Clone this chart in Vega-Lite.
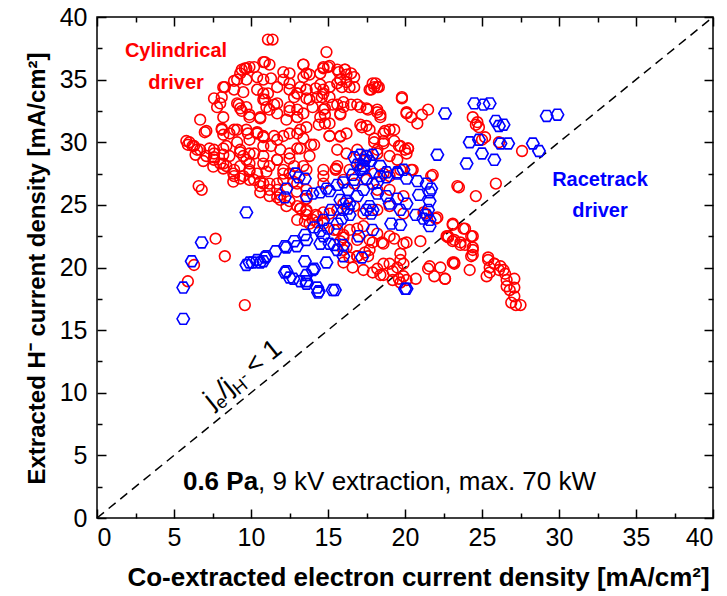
{
  "$schema": "https://vega.github.io/schema/vega-lite/v6.json",
  "width": 616,
  "height": 501,
  "autosize": {"type": "none"},
  "padding": {"left": 97, "top": 17, "right": 14, "bottom": 78},
  "background": "white",
  "config": {
    "view": {"stroke": "black", "strokeWidth": 1.5},
    "axis": {
      "grid": false, "domain": false, "tickColor": "black", "tickWidth": 1.5,
      "labelColor": "black", "labelFont": "Liberation Sans, Arial, sans-serif", "labelFontSize": 25,
      "titleColor": "black", "titleFont": "Liberation Sans, Arial, sans-serif", "titleFontSize": 26, "titleFontWeight": "bold"
    },
    "text": {"font": "Liberation Sans, Arial, sans-serif"}
  },
  "datasets": {
    "cyl": [
      {"x":11.1,"y":38.2},{"x":11.4,"y":38.2},{"x":14.9,"y":37.2},{"x":9.4,"y":35.8},{"x":9.7,"y":35.9},{"x":10.2,"y":36.0},{"x":10.8,"y":36.4},{"x":11.2,"y":36.2},{"x":9.1,"y":35.0},{"x":9.7,"y":35.0},{"x":10.4,"y":35.2},{"x":10.8,"y":35.0},{"x":11.3,"y":35.1},{"x":12.1,"y":35.6},{"x":12.5,"y":35.5},{"x":13.4,"y":36.2},{"x":13.8,"y":35.4},{"x":14.5,"y":35.5},{"x":14.7,"y":35.9},{"x":15.0,"y":36.0},{"x":15.6,"y":35.8},{"x":16.1,"y":35.8},{"x":16.2,"y":35.4},{"x":16.7,"y":35.2},{"x":15.8,"y":35.0},{"x":15.6,"y":34.7},{"x":16.7,"y":34.4},{"x":18.1,"y":34.7},{"x":18.2,"y":34.4},{"x":17.7,"y":34.2},{"x":19.8,"y":33.6},{"x":8.2,"y":34.4},{"x":8.9,"y":34.2},{"x":9.5,"y":34.0},{"x":10.4,"y":34.2},{"x":10.8,"y":33.9},{"x":11.7,"y":34.4},{"x":12.5,"y":34.2},{"x":13.0,"y":33.9},{"x":13.6,"y":34.2},{"x":14.7,"y":34.2},{"x":15.1,"y":34.4},{"x":7.6,"y":33.5},{"x":7.8,"y":32.8},{"x":9.1,"y":33.1},{"x":9.3,"y":32.7},{"x":9.7,"y":32.8},{"x":10.8,"y":33.4},{"x":11.0,"y":32.8},{"x":11.7,"y":33.1},{"x":12.5,"y":32.8},{"x":13.0,"y":32.6},{"x":13.8,"y":33.4},{"x":14.3,"y":33.6},{"x":14.7,"y":32.6},{"x":15.6,"y":33.0},{"x":16.0,"y":32.8},{"x":16.9,"y":33.0},{"x":17.5,"y":32.7},{"x":18.2,"y":32.6},{"x":18.4,"y":32.2},{"x":20.1,"y":32.3},{"x":6.7,"y":31.8},{"x":8.2,"y":32.0},{"x":9.9,"y":32.0},{"x":10.6,"y":32.0},{"x":11.7,"y":32.3},{"x":13.0,"y":32.0},{"x":13.4,"y":32.3},{"x":14.5,"y":32.0},{"x":15.1,"y":31.5},{"x":15.8,"y":32.3},{"x":17.1,"y":31.4},{"x":17.5,"y":31.3},{"x":19.0,"y":31.0},{"x":18.6,"y":30.7},{"x":7.1,"y":30.9},{"x":8.1,"y":31.1},{"x":8.2,"y":30.6},{"x":8.6,"y":30.7},{"x":9.1,"y":31.0},{"x":9.7,"y":31.0},{"x":10.4,"y":30.7},{"x":10.8,"y":30.5},{"x":11.5,"y":30.5},{"x":12.1,"y":30.5},{"x":13.0,"y":30.7},{"x":13.4,"y":30.3},{"x":14.1,"y":29.8},{"x":15.1,"y":30.5},{"x":15.8,"y":30.5},{"x":18.0,"y":30.3},{"x":18.6,"y":30.1},{"x":19.3,"y":30.1},{"x":19.7,"y":29.7},{"x":5.8,"y":30.1},{"x":5.9,"y":29.8},{"x":6.3,"y":29.7},{"x":6.7,"y":29.4},{"x":7.3,"y":29.5},{"x":7.6,"y":29.1},{"x":8.4,"y":29.7},{"x":8.6,"y":28.9},{"x":9.3,"y":29.4},{"x":9.5,"y":28.9},{"x":10.2,"y":29.1},{"x":10.8,"y":29.7},{"x":11.3,"y":29.7},{"x":11.9,"y":29.4},{"x":12.5,"y":29.1},{"x":13.0,"y":29.5},{"x":13.8,"y":28.9},{"x":15.6,"y":29.4},{"x":16.2,"y":29.1},{"x":16.9,"y":29.4},{"x":17.5,"y":28.9},{"x":18.2,"y":29.4},{"x":19.0,"y":28.9},{"x":19.5,"y":28.6},{"x":7.1,"y":28.9},{"x":7.6,"y":28.6},{"x":8.0,"y":28.3},{"x":8.4,"y":28.1},{"x":8.9,"y":27.8},{"x":9.3,"y":28.1},{"x":9.9,"y":27.8},{"x":9.7,"y":28.6},{"x":9.9,"y":28.3},{"x":10.4,"y":27.5},{"x":10.8,"y":28.3},{"x":11.2,"y":28.1},{"x":11.7,"y":28.6},{"x":12.1,"y":27.8},{"x":12.8,"y":28.1},{"x":13.4,"y":28.1},{"x":14.7,"y":27.8},{"x":15.6,"y":28.1},{"x":16.4,"y":27.8},{"x":17.1,"y":28.3},{"x":18.0,"y":27.5},{"x":18.6,"y":27.5},{"x":19.0,"y":27.3},{"x":19.7,"y":27.8},{"x":8.9,"y":27.3},{"x":9.5,"y":27.3},{"x":10.2,"y":27.0},{"x":10.6,"y":26.5},{"x":11.2,"y":26.7},{"x":11.7,"y":26.2},{"x":12.1,"y":27.0},{"x":12.5,"y":27.5},{"x":13.0,"y":26.7},{"x":13.6,"y":26.2},{"x":14.7,"y":26.7},{"x":16.0,"y":27.0},{"x":16.7,"y":26.7},{"x":17.5,"y":27.0},{"x":18.2,"y":26.2},{"x":19.0,"y":26.2},{"x":19.9,"y":25.7},{"x":6.6,"y":26.5},{"x":6.8,"y":26.2},{"x":11.2,"y":25.7},{"x":11.9,"y":25.4},{"x":12.3,"y":24.9},{"x":13.0,"y":24.9},{"x":13.6,"y":24.6},{"x":14.3,"y":24.1},{"x":15.1,"y":24.3},{"x":15.6,"y":24.6},{"x":16.0,"y":25.1},{"x":16.7,"y":24.9},{"x":17.3,"y":24.3},{"x":18.2,"y":24.6},{"x":19.0,"y":24.9},{"x":19.9,"y":24.3},{"x":13.0,"y":23.8},{"x":13.8,"y":23.5},{"x":14.7,"y":23.5},{"x":15.6,"y":23.0},{"x":16.4,"y":23.0},{"x":17.3,"y":23.3},{"x":18.2,"y":22.7},{"x":19.0,"y":22.5},{"x":19.9,"y":21.9},{"x":18.6,"y":21.9},{"x":16.9,"y":22.2},{"x":7.7,"y":22.3},{"x":8.3,"y":20.9},{"x":16.0,"y":21.4},{"x":16.9,"y":20.9},{"x":17.7,"y":21.4},{"x":18.6,"y":20.3},{"x":19.7,"y":20.6},{"x":6.3,"y":20.2},
      {"x":8.2,"y":28.3},{"x":10.8,"y":26.7},{"x":11.7,"y":25.6},{"x":14.3,"y":23.6},{"x":16.0,"y":22.4},{"x":17.9,"y":22.0},
      {"x":19.8,"y":33.5},{"x":20.1,"y":32.4},{"x":20.4,"y":32.0},{"x":20.8,"y":31.5},{"x":21.1,"y":32.2},{"x":21.5,"y":32.6},{"x":24.4,"y":32.0},{"x":24.7,"y":31.6},{"x":24.8,"y":31.2},{"x":25.2,"y":30.4},{"x":26.1,"y":30.0},{"x":27.6,"y":29.3},{"x":20.0,"y":29.4},{"x":20.2,"y":29.5},{"x":20.4,"y":27.8},{"x":21.7,"y":27.3},{"x":23.5,"y":26.4},{"x":25.9,"y":26.7},{"x":24.6,"y":25.7},{"x":21.2,"y":24.4},{"x":22.1,"y":24.0},{"x":23.1,"y":23.5},{"x":23.8,"y":23.1},{"x":22.7,"y":22.5},{"x":23.2,"y":22.2},{"x":23.6,"y":21.8},{"x":24.3,"y":22.5},{"x":24.4,"y":21.6},{"x":24.3,"y":20.9},{"x":23.1,"y":20.4},{"x":21.0,"y":22.1},{"x":25.4,"y":20.8},{"x":25.8,"y":20.3},{"x":26.2,"y":20.1},{"x":19.7,"y":21.1},{"x":19.9,"y":20.3},{"x":21.6,"y":20.1},{"x":22.3,"y":20.0},
      {"x":23.1,"y":23.4},{"x":23.9,"y":23.1},{"x":24.4,"y":22.5},{"x":22.8,"y":22.5},{"x":23.1,"y":22.1},{"x":23.6,"y":22.0},{"x":23.9,"y":21.8},{"x":24.4,"y":21.4},{"x":24.4,"y":21.0},{"x":23.2,"y":20.4},{"x":24.2,"y":19.8},{"x":22.6,"y":19.1},{"x":25.4,"y":20.6},{"x":25.5,"y":20.0},{"x":25.8,"y":20.3},{"x":26.1,"y":19.8},{"x":26.4,"y":19.8},{"x":26.5,"y":19.5},{"x":25.3,"y":19.3},{"x":25.5,"y":19.6},{"x":26.6,"y":19.0},{"x":27.1,"y":19.1},{"x":26.6,"y":18.5},{"x":26.8,"y":18.2},{"x":27.1,"y":18.4},{"x":27.1,"y":17.7},{"x":26.9,"y":17.2},{"x":27.2,"y":17.0},{"x":27.5,"y":17.0},
      {"x":13.6,"y":27.8},{"x":14.7,"y":27.3},{"x":15.5,"y":27.8},{"x":20.5,"y":27.8},{"x":21.8,"y":27.4},{"x":23.4,"y":26.5},{"x":13.2,"y":24.7},{"x":13.6,"y":24.5},{"x":14.2,"y":24.2},{"x":14.7,"y":24.4},{"x":13.5,"y":23.7},{"x":14.0,"y":23.8},{"x":15.4,"y":23.0},{"x":16.0,"y":22.6},{"x":16.9,"y":23.1},{"x":15.8,"y":22.1},{"x":16.2,"y":21.6},{"x":16.4,"y":20.8},{"x":16.9,"y":20.9},{"x":17.4,"y":21.2},{"x":17.6,"y":20.9},{"x":17.7,"y":22.2},{"x":18.5,"y":22.0},{"x":19.3,"y":22.3},{"x":20.1,"y":22.0},{"x":21.3,"y":24.3},{"x":22.0,"y":23.9},{"x":22.8,"y":22.4},{"x":18.2,"y":19.9},{"x":18.4,"y":19.4},{"x":19.0,"y":20.3},{"x":19.2,"y":19.7},{"x":19.6,"y":19.1},{"x":19.9,"y":19.3},{"x":20.1,"y":19.0},{"x":20.7,"y":19.1},{"x":21.5,"y":19.9},{"x":21.9,"y":19.3},{"x":22.6,"y":19.1},{"x":23.2,"y":20.3},
      {"x":24.6,"y":31.4},{"x":25.0,"y":30.2},
      {"x":13.4,"y":36.2},{"x":14.7,"y":36.0},{"x":15.1,"y":36.1},{"x":15.7,"y":35.6},{"x":16.1,"y":35.8},{"x":16.5,"y":35.5},{"x":15.8,"y":35.0},{"x":16.2,"y":34.8},{"x":16.4,"y":34.4},{"x":15.9,"y":34.4},{"x":17.9,"y":34.7},{"x":18.0,"y":34.4},{"x":17.8,"y":34.2},{"x":18.3,"y":34.4},{"x":13.2,"y":34.4},{"x":13.6,"y":34.2},{"x":14.2,"y":34.3},{"x":14.5,"y":34.6},{"x":14.7,"y":33.9},{"x":15.1,"y":33.6},{"x":14.6,"y":33.6},{"x":13.6,"y":33.5},{"x":14.0,"y":32.8},{"x":14.8,"y":32.7},{"x":15.3,"y":33.0},{"x":16.0,"y":33.2},{"x":16.5,"y":33.0},{"x":17.1,"y":32.8},{"x":17.6,"y":32.6},{"x":18.2,"y":32.4},{"x":18.4,"y":32.0},{"x":14.8,"y":32.2},{"x":14.4,"y":31.4},{"x":14.8,"y":31.5},{"x":15.8,"y":32.2},{"x":15.1,"y":30.5},{"x":15.8,"y":30.45},{"x":16.2,"y":30.7},{"x":17.2,"y":31.2},{"x":17.7,"y":31.0},{"x":18.7,"y":30.9},{"x":19.3,"y":31.0},{"x":18.0,"y":30.0},{"x":18.6,"y":29.9},{"x":19.6,"y":29.7},{"x":20.2,"y":29.5},{"x":20.1,"y":29.1},{"x":13.2,"y":29.5},{"x":13.9,"y":29.8},{"x":18.2,"y":29.1},{"x":15.5,"y":27.9},{"x":17.3,"y":28.5},
      {"x":10.9,"y":36.4},{"x":9.9,"y":36.0},{"x":7.0,"y":30.8},{"x":6.0,"y":30.0},{"x":6.2,"y":29.7},{"x":6.5,"y":29.4},{"x":6.4,"y":29.0},{"x":8.0,"y":33.1},{"x":8.1,"y":33.6},{"x":8.3,"y":34.4},{"x":8.9,"y":34.9},{"x":9.3,"y":35.5},{"x":9.6,"y":35.9},{"x":9.2,"y":33.0},{"x":9.4,"y":32.5},{"x":9.9,"y":32.2},{"x":10.6,"y":31.9},{"x":11.2,"y":32.6},{"x":11.5,"y":33.0},{"x":10.9,"y":33.4},{"x":11.1,"y":33.9},{"x":8.1,"y":31.0},{"x":8.9,"y":31.0},{"x":9.8,"y":30.7},{"x":10.4,"y":30.8},{"x":7.6,"y":29.4},{"x":8.2,"y":29.5},{"x":9.1,"y":30.0},{"x":9.9,"y":30.2},{"x":10.8,"y":30.4},{"x":11.7,"y":30.2},{"x":12.5,"y":30.7},{"x":13.2,"y":31.0},{"x":13.6,"y":31.2},{"x":12.1,"y":35.0},{"x":12.5,"y":34.7},{"x":12.8,"y":33.6},{"x":12.5,"y":32.5},{"x":12.3,"y":31.8},{"x":13.0,"y":32.0},{"x":13.0,"y":33.9},{"x":13.4,"y":35.2},{"x":13.6,"y":35.5},{"x":6.9,"y":28.5},{"x":7.6,"y":28.8},{"x":8.2,"y":29.0},{"x":9.3,"y":29.2},{"x":9.9,"y":29.1},{"x":10.8,"y":28.9},{"x":11.7,"y":28.6},{"x":12.5,"y":28.7},
      {"x":5.9,"y":18.9},{"x":9.6,"y":17.0},{"x":7.55,"y":28.05},{"x":8.2,"y":27.9},{"x":8.85,"y":27.5},{"x":9.3,"y":27.1},{"x":9.9,"y":27.0},{"x":10.6,"y":26.85},{"x":11.2,"y":26.2},{"x":11.9,"y":25.8},{"x":12.5,"y":25.3},{"x":13.2,"y":24.7},{"x":13.6,"y":24.2},{"x":10.6,"y":26.0},{"x":9.9,"y":27.65},{"x":11.0,"y":27.65},{"x":12.1,"y":27.5},{"x":12.75,"y":26.85},{"x":11.7,"y":26.7},{"x":12.97,"y":26.05},{"x":13.6,"y":25.5},{"x":8.85,"y":26.85},
      {"x":16.0,"y":20.4},{"x":16.6,"y":20.0},{"x":17.3,"y":19.8},{"x":17.9,"y":19.6},{"x":18.6,"y":19.4},{"x":19.2,"y":19.0},{"x":19.7,"y":18.8},{"x":19.5,"y":20.0}
    ],
    "race": [
      {"x":5.6,"y":15.9},{"x":5.6,"y":18.4},{"x":6.15,"y":20.5},{"x":6.8,"y":22.0},{"x":9.7,"y":24.4},{"x":12.2,"y":25.6},{"x":13.1,"y":27.2},{"x":13.5,"y":27.1},{"x":12.3,"y":26.3},{"x":12.9,"y":27.5},{"x":22.6,"y":32.3},{"x":24.5,"y":33.1},{"x":25.1,"y":33.0},{"x":25.5,"y":33.1},{"x":25.9,"y":31.7},{"x":26.4,"y":31.4},{"x":26.1,"y":31.3},{"x":29.2,"y":32.1},{"x":29.9,"y":32.2},{"x":24.2,"y":30.0},{"x":24.8,"y":30.2},{"x":25.0,"y":29.1},{"x":25.8,"y":28.6},{"x":24.0,"y":28.3},{"x":26.2,"y":29.9},{"x":26.7,"y":29.9},{"x":28.3,"y":29.9},{"x":28.7,"y":29.3},{"x":22.1,"y":29.0},{"x":20.0,"y":18.3},
      {"x":9.9,"y":20.4},{"x":10.4,"y":20.6},{"x":11.0,"y":20.9},{"x":11.6,"y":21.3},{"x":12.2,"y":21.7},{"x":12.8,"y":22.1},{"x":13.5,"y":22.6},{"x":14.1,"y":23.2},{"x":14.7,"y":23.8},{"x":15.2,"y":24.6},{"x":15.8,"y":25.4},{"x":16.3,"y":26.2},{"x":16.7,"y":27.0},{"x":17.1,"y":27.8},{"x":17.4,"y":28.6},
      {"x":13.6,"y":25.7},{"x":14.0,"y":25.9},{"x":14.5,"y":26.0},{"x":14.9,"y":26.3},{"x":15.6,"y":26.6},{"x":16.0,"y":26.8},{"x":15.1,"y":26.1},{"x":16.6,"y":27.4},{"x":17.3,"y":27.9},
      {"x":16.7,"y":28.8},{"x":17.1,"y":29.0},{"x":17.5,"y":28.9},{"x":17.9,"y":29.0},{"x":16.9,"y":28.2},{"x":17.3,"y":28.1},{"x":17.7,"y":28.5},{"x":18.4,"y":28.1},{"x":18.8,"y":27.6},{"x":19.5,"y":27.6},{"x":19.9,"y":27.8},
      {"x":17.5,"y":27.1},{"x":18.2,"y":26.8},{"x":18.8,"y":27.2},{"x":19.5,"y":27.5},{"x":20.1,"y":27.1},{"x":20.8,"y":26.9},{"x":21.4,"y":26.7},{"x":21.7,"y":26.3},{"x":18.2,"y":25.9},{"x":18.8,"y":25.7},{"x":19.5,"y":25.5},{"x":20.1,"y":25.1},{"x":20.9,"y":25.8},{"x":20.7,"y":24.2},{"x":21.2,"y":23.9},{"x":21.4,"y":24.2},{"x":19.1,"y":23.5},{"x":19.7,"y":23.4},{"x":17.9,"y":24.6},{"x":17.7,"y":24.9},{"x":17.5,"y":24.6},{"x":17.8,"y":24.3},{"x":19.0,"y":25.1},{"x":19.7,"y":24.6},{"x":16.0,"y":24.6},{"x":16.4,"y":25.1},{"x":16.9,"y":25.7},{"x":17.3,"y":26.2},{"x":17.9,"y":26.7},{"x":18.4,"y":27.3},
      {"x":21.6,"y":23.3},{"x":21.6,"y":23.8},{"x":21.5,"y":24.6},{"x":21.6,"y":25.3},{"x":21.6,"y":26.0},
      {"x":16.2,"y":25.3},{"x":16.3,"y":24.7},{"x":16.4,"y":24.2},{"x":15.9,"y":23.9},{"x":15.6,"y":23.5},{"x":15.0,"y":23.1},{"x":14.5,"y":22.9},{"x":13.6,"y":22.2},{"x":15.4,"y":21.8},{"x":16.0,"y":21.8},{"x":17.0,"y":22.5},{"x":17.2,"y":20.8},{"x":17.9,"y":23.0},
      {"x":13.5,"y":20.5},{"x":14.1,"y":19.9},{"x":13.6,"y":18.9},{"x":14.4,"y":18.1},{"x":15.3,"y":18.2},{"x":20.1,"y":18.3},{"x":12.3,"y":19.7},{"x":12.75,"y":19.1},{"x":13.2,"y":18.9},{"x":13.6,"y":19.4},{"x":13.6,"y":18.7},{"x":12.97,"y":21.7},{"x":14.7,"y":22.5},{"x":15.1,"y":21.9},{"x":15.6,"y":21.4},{"x":16.0,"y":20.9},{"x":14.5,"y":21.9},
      {"x":9.7,"y":20.2},{"x":10.1,"y":20.4},{"x":10.6,"y":20.4},{"x":12.2,"y":19.6},{"x":12.5,"y":19.2},{"x":14.3,"y":18.4},{"x":14.35,"y":18.0},{"x":14.0,"y":19.8},{"x":15.45,"y":18.2},{"x":14.9,"y":20.4},
      {"x":10.9,"y":20.8},{"x":10.8,"y":20.5},{"x":12.3,"y":21.6}
    ]
  },
  "resolve": {"axis": {"x": "independent", "y": "independent"}},
  "layer": [
    {
      "data": {"values": [{"x": 0, "y": 0}, {"x": 40, "y": 40}]},
      "mark": {"type": "line", "color": "black", "strokeWidth": 1.5, "strokeDash": [9, 6]},
      "encoding": {
        "x": {"field": "x", "type": "quantitative", "scale": {"domain": [0, 40], "nice": false},
              "axis": {"orient": "bottom", "values": [2.5, 7.5, 12.5, 17.5, 22.5, 27.5, 32.5, 37.5], "labels": false, "tickSize": -5, "title": null}},
        "y": {"field": "y", "type": "quantitative", "scale": {"domain": [0, 40], "nice": false},
              "axis": {"orient": "left", "values": [2.5, 7.5, 12.5, 17.5, 22.5, 27.5, 32.5, 37.5], "labels": false, "tickSize": -5, "title": null}}
      }
    },
    {
      "data": {"name": "cyl"},
      "mark": {"type": "point", "shape": "circle", "filled": false, "color": "#ff0000", "strokeWidth": 1.6, "size": 115, "opacity": 1},
      "encoding": {
        "x": {"field": "x", "type": "quantitative", "scale": {"domain": [0, 40], "nice": false},
              "axis": {"orient": "bottom", "values": [0, 5, 10, 15, 20, 25, 30, 35, 40], "tickSize": -9, "labelPadding": 16,
                       "title": "Co-extracted electron current density [mA/cm²]", "titleX": 321, "titleY": 67, "titleBaseline": "alphabetic"}},
        "y": {"field": "y", "type": "quantitative", "scale": {"domain": [0, 40], "nice": false},
              "axis": {"orient": "left", "values": [0, 5, 10, 15, 20, 25, 30, 35, 40], "tickSize": -9, "labelPadding": 19,
                       "title": "Extracted H⁻ current density [mA/cm²]", "titleFontSize": 24, "titleX": -53, "titleY": 251, "titleBaseline": "alphabetic"}}
      }
    },
    {
      "data": {"name": "race"},
      "mark": {"type": "point", "shape": "M-1,0L-0.5,-0.866L0.5,-0.866L1,0L0.5,0.866L-0.5,0.866Z", "filled": false, "color": "#0000ff", "strokeWidth": 1.6, "size": 155, "opacity": 1},
      "encoding": {
        "x": {"field": "x", "type": "quantitative", "scale": {"domain": [0, 40], "nice": false},
              "axis": {"orient": "top", "values": [0, 5, 10, 15, 20, 25, 30, 35, 40], "labels": false, "tickSize": -9, "title": null}},
        "y": {"field": "y", "type": "quantitative", "scale": {"domain": [0, 40], "nice": false},
              "axis": {"orient": "right", "values": [0, 5, 10, 15, 20, 25, 30, 35, 40], "labels": false, "tickSize": -9, "title": null}}
      }
    },
    {
      "data": {"values": [{"t": "Cylindrical", "x": 5.13, "y": 36.8}, {"t": "driver", "x": 5.13, "y": 34.25}]},
      "mark": {"type": "text", "align": "center", "baseline": "alphabetic", "fontSize": 20, "fontWeight": "bold", "color": "#ff0000"},
      "encoding": {
        "x": {"field": "x", "type": "quantitative", "scale": {"domain": [0, 40], "nice": false},
              "axis": {"orient": "top", "values": [2.5, 7.5, 12.5, 17.5, 22.5, 27.5, 32.5, 37.5], "labels": false, "tickSize": -5, "title": null}},
        "y": {"field": "y", "type": "quantitative", "scale": {"domain": [0, 40], "nice": false},
              "axis": {"orient": "right", "values": [2.5, 7.5, 12.5, 17.5, 22.5, 27.5, 32.5, 37.5], "labels": false, "tickSize": -5, "title": null}},
        "text": {"field": "t"}
      }
    },
    {
      "data": {"values": [{"t": "Racetrack", "x": 32.66, "y": 26.5}, {"t": "driver", "x": 32.66, "y": 24.0}]},
      "mark": {"type": "text", "align": "center", "baseline": "alphabetic", "fontSize": 20, "fontWeight": "bold", "color": "#0000ff"},
      "encoding": {
        "x": {"field": "x", "type": "quantitative", "scale": {"domain": [0, 40], "nice": false}, "axis": null},
        "y": {"field": "y", "type": "quantitative", "scale": {"domain": [0, 40], "nice": false}, "axis": null},
        "text": {"field": "t"}
      }
    },
    {
      "data": {"values": [{"t": "0.6 Pa", "x": 5.58, "y": 2.24}]},
      "mark": {"type": "text", "align": "left", "baseline": "alphabetic", "fontSize": 26, "fontWeight": "bold", "color": "black"},
      "encoding": {
        "x": {"field": "x", "type": "quantitative", "scale": {"domain": [0, 40], "nice": false}, "axis": null},
        "y": {"field": "y", "type": "quantitative", "scale": {"domain": [0, 40], "nice": false}, "axis": null},
        "text": {"field": "t"}
      }
    },
    {
      "data": {"values": [{"t": ", 9 kV extraction, max. 70 kW", "x": 5.58, "y": 2.24}]},
      "mark": {"type": "text", "align": "left", "baseline": "alphabetic", "fontSize": 26, "dx": 75, "color": "black"},
      "encoding": {
        "x": {"field": "x", "type": "quantitative", "scale": {"domain": [0, 40], "nice": false}, "axis": null},
        "y": {"field": "y", "type": "quantitative", "scale": {"domain": [0, 40], "nice": false}, "axis": null},
        "text": {"field": "t"}
      }
    },
    {
      "data": {"values": [{"t": "j", "x": 7.5, "y": 8.7}]},
      "mark": {"type": "text", "align": "left", "baseline": "alphabetic", "fontSize": 27, "angle": 321, "dx": 0, "dy": 0, "color": "black"},
      "encoding": {
        "x": {"field": "x", "type": "quantitative", "scale": {"domain": [0, 40], "nice": false}, "axis": null},
        "y": {"field": "y", "type": "quantitative", "scale": {"domain": [0, 40], "nice": false}, "axis": null},
        "text": {"field": "t"}
      }
    },
    {
      "data": {"values": [{"t": "e", "x": 7.5, "y": 8.7}]},
      "mark": {"type": "text", "align": "left", "baseline": "alphabetic", "fontSize": 18, "angle": 321, "dx": 6, "dy": 6, "color": "black"},
      "encoding": {
        "x": {"field": "x", "type": "quantitative", "scale": {"domain": [0, 40], "nice": false}, "axis": null},
        "y": {"field": "y", "type": "quantitative", "scale": {"domain": [0, 40], "nice": false}, "axis": null},
        "text": {"field": "t"}
      }
    },
    {
      "data": {"values": [{"t": "/j", "x": 7.5, "y": 8.7}]},
      "mark": {"type": "text", "align": "left", "baseline": "alphabetic", "fontSize": 27, "angle": 321, "dx": 16, "dy": 0, "color": "black"},
      "encoding": {
        "x": {"field": "x", "type": "quantitative", "scale": {"domain": [0, 40], "nice": false}, "axis": null},
        "y": {"field": "y", "type": "quantitative", "scale": {"domain": [0, 40], "nice": false}, "axis": null},
        "text": {"field": "t"}
      }
    },
    {
      "data": {"values": [{"t": "H", "x": 7.5, "y": 8.7}]},
      "mark": {"type": "text", "align": "left", "baseline": "alphabetic", "fontSize": 18, "angle": 321, "dx": 29, "dy": 6, "color": "black"},
      "encoding": {
        "x": {"field": "x", "type": "quantitative", "scale": {"domain": [0, 40], "nice": false}, "axis": null},
        "y": {"field": "y", "type": "quantitative", "scale": {"domain": [0, 40], "nice": false}, "axis": null},
        "text": {"field": "t"}
      }
    },
    {
      "data": {"values": [{"t": "-", "x": 7.5, "y": 8.7}]},
      "mark": {"type": "text", "align": "left", "baseline": "alphabetic", "fontSize": 16, "angle": 321, "dx": 42, "dy": -1, "color": "black"},
      "encoding": {
        "x": {"field": "x", "type": "quantitative", "scale": {"domain": [0, 40], "nice": false}, "axis": null},
        "y": {"field": "y", "type": "quantitative", "scale": {"domain": [0, 40], "nice": false}, "axis": null},
        "text": {"field": "t"}
      }
    },
    {
      "data": {"values": [{"t": "< 1", "x": 7.5, "y": 8.7}]},
      "mark": {"type": "text", "align": "left", "baseline": "alphabetic", "fontSize": 27, "angle": 321, "dx": 53, "dy": 0, "color": "black"},
      "encoding": {
        "x": {"field": "x", "type": "quantitative", "scale": {"domain": [0, 40], "nice": false}, "axis": null},
        "y": {"field": "y", "type": "quantitative", "scale": {"domain": [0, 40], "nice": false}, "axis": null},
        "text": {"field": "t"}
      }
    }
  ]
}
